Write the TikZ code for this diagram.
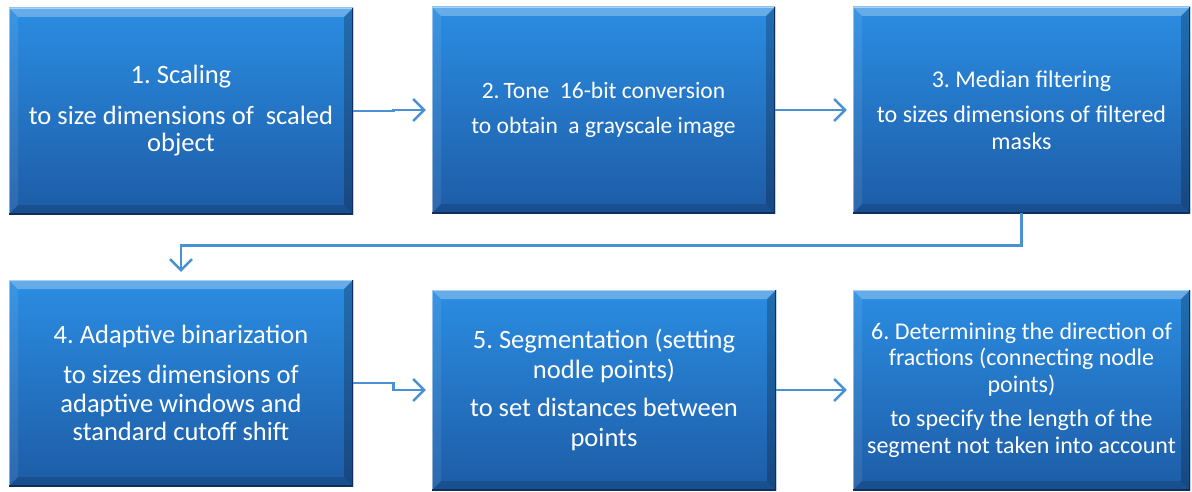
\documentclass[tikz,border=0pt]{standalone}
\usepackage{fontspec}
\setmainfont{Carlito}
\frenchspacing
\usetikzlibrary{arrows.meta,calc}
\definecolor{boxtop}{HTML}{2B8DE2}
\definecolor{boxbot}{HTML}{1D5CA6}
\definecolor{edgecol}{HTML}{102E5E}
\definecolor{conncol}{HTML}{4A90D4}
\tikzset{
  bx/.style={rectangle, inner sep=0pt, align=center, text=white,
    top color=boxtop, bottom color=boxbot,
    path picture={
      \coordinate (NW) at (path picture bounding box.north west);
      \coordinate (NE) at (path picture bounding box.north east);
      \coordinate (SW) at (path picture bounding box.south west);
      \coordinate (SE) at (path picture bounding box.south east);
      \fill[white, opacity=0.28] (NW) -- (NE) -- ([shift={(-9pt,-9pt)}]NE) -- ([shift={(9pt,-9pt)}]NW) -- cycle;
      \fill[white, opacity=0.08] (NW) -- ([shift={(9pt,-9pt)}]NW) -- ([shift={(9pt,9pt)}]SW) -- (SW) -- cycle;
      \fill[black, opacity=0.22] (NE) -- (SE) -- ([shift={(-9pt,9pt)}]SE) -- ([shift={(-9pt,-9pt)}]NE) -- cycle;
      \fill[black, opacity=0.14] (SW) -- ([shift={(9pt,9pt)}]SW) -- ([shift={(-9pt,9pt)}]SE) -- (SE) -- cycle;
      \draw[white, opacity=0.45, line width=1.5pt] (SW) -- (NW) -- (NE);
      \draw[edgecol, line width=3pt] (NE) -- (SE) -- (SW);
    }},
  fone/.style={font=\fontsize{26.5}{27.5}\selectfont},
  ffour/.style={font=\fontsize{26.5}{28.5}\selectfont},
  ffive/.style={font=\fontsize{26.5}{30}\selectfont},
  ftwo/.style={font=\fontsize{23.5}{26.5}\selectfont},
  fthree/.style={font=\fontsize{24}{27}\selectfont},
  fsix/.style={font=\fontsize{24}{26.5}\selectfont},
  conn/.style={draw=conncol, line width=2.6pt,
    -{Straight Barb[length=11pt, width=22pt, line width=2.4pt]}},
}
\begin{document}
\begin{tikzpicture}[x=1pt, y=-1pt]
\useasboundingbox (0,0) rectangle (1192,492);

\node[bx, fone, minimum width=344pt, minimum height=206pt] (b1) at (181,111)
  {1. Scaling\\[13pt] to size dimensions of \ scaled\\ object};
\node[bx, ftwo, minimum width=343pt, minimum height=206pt] (b2) at (603.5,110)
  {2.\,Tone \ 16-bit conversion\\[9pt] to obtain \ a grayscale image};
\node[bx, fthree, minimum width=337pt, minimum height=206pt] (b3) at (1021.5,110)
  {3. Median filtering\\[8pt] to sizes dimensions of filtered\\ masks};
\node[bx, ffour, minimum width=344pt, minimum height=206pt] (b4) at (181,383)
  {4. Adaptive binarization\\[12pt] to sizes dimensions of\\ adaptive windows and\\ standard cutoff shift};
\node[bx, ffive, minimum width=344pt, minimum height=200pt] (b5) at (604,390)
  {5. Segmentation (setting\\ nodle points)\\[8pt] to set distances between\\ points};
\node[bx, fsix, minimum width=337pt, minimum height=200pt] (b6) at (1021.5,390)
  {6. Determining the direction of\\ fractions (connecting nodle\\ points)\\[8pt] to specify the length of the\\ segment not taken into account};

\draw[conn] (b1.east) -- ++(40pt,0) |- ([xshift=-6pt]b2.west);
\draw[conn] (b2.east) -- ([xshift=-6pt]b3.west);
\draw[conn] (b3.south) -- ++(0,-32pt) -| ([yshift=8pt]b4.north);
\draw[conn] (b4.east) -- ++(40pt,0) |- ([xshift=-6pt]b5.west);
\draw[conn] (b5.east) -- ([xshift=-6pt]b6.west);
\end{tikzpicture}
\end{document}
